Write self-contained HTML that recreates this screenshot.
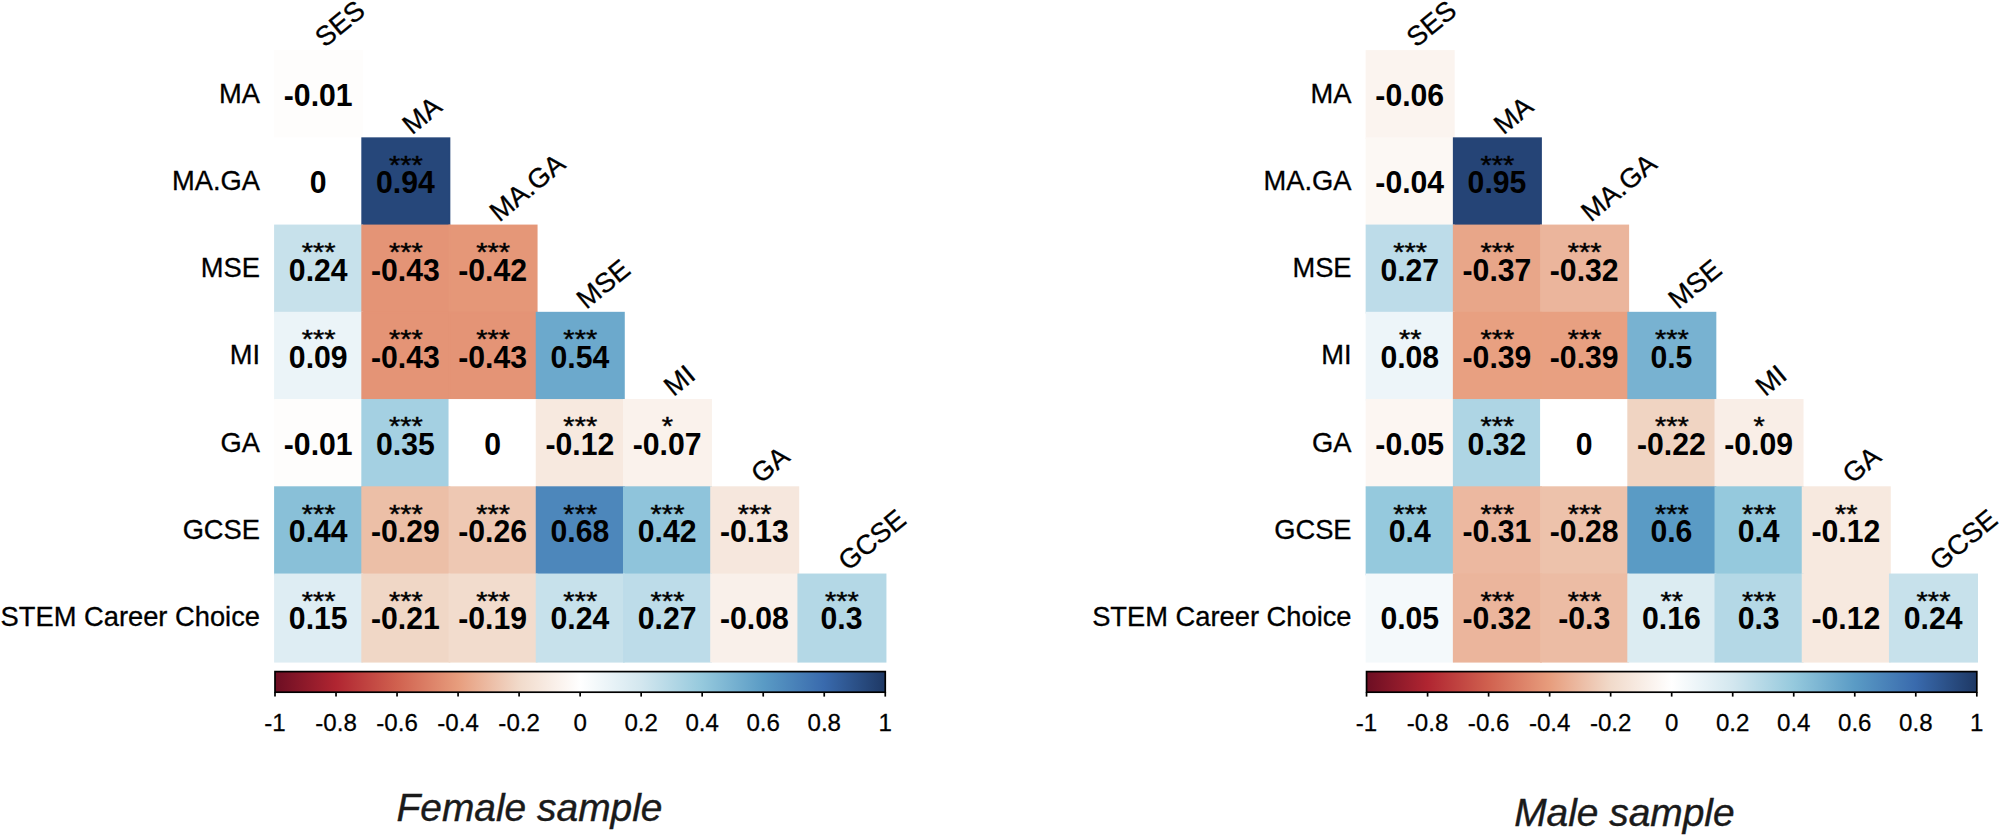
<!DOCTYPE html>
<html><head><meta charset="utf-8"><title>Correlation plots</title>
<style>
html,body{margin:0;padding:0;background:#fff;}
body{width:2000px;height:836px;overflow:hidden;}
svg{display:block;font-family:"Liberation Sans",sans-serif;}
.nm{font-weight:bold;font-size:30.2px;text-anchor:middle;fill:#000;}
.st{font-size:29px;text-anchor:middle;fill:#000;stroke:#000;stroke-width:0.5px;}
.rl{font-size:27.3px;text-anchor:end;fill:#000;stroke:#000;stroke-width:0.3px;}
.cl{font-size:27.3px;text-anchor:start;fill:#000;stroke:#000;stroke-width:0.3px;}
.tk{font-size:24.1px;text-anchor:middle;fill:#000;stroke:#000;stroke-width:0.25px;}
.tt{font-size:38.9px;font-style:italic;text-anchor:middle;fill:#1a1a1a;stroke:#1a1a1a;stroke-width:0.4px;}
</style></head><body>
<svg width="2000" height="836" viewBox="0 0 2000 836">
<defs><linearGradient id="g1" x1="0" x2="1" y1="0" y2="0"><stop offset="0%" stop-color="#6C0E23"/><stop offset="10%" stop-color="#B02531"/><stop offset="20%" stop-color="#D0614F"/><stop offset="30%" stop-color="#E79D7D"/><stop offset="40%" stop-color="#F1DACA"/><stop offset="50%" stop-color="#FFFFFF"/><stop offset="60%" stop-color="#D3E7EF"/><stop offset="70%" stop-color="#95C9DD"/><stop offset="80%" stop-color="#5A9BC5"/><stop offset="90%" stop-color="#396AAD"/><stop offset="100%" stop-color="#1E3864"/></linearGradient></defs>
<rect width="2000" height="836" fill="#fff"/>
<g>
<rect x="275.00" y="51.00" width="87.22" height="87.24" fill="#FEFDFC" stroke="#FEFDFC" stroke-width="1.8"/>
<rect x="275.00" y="138.24" width="87.22" height="87.24" fill="#FFFFFF" stroke="#FFFFFF" stroke-width="1.8"/>
<rect x="362.22" y="138.24" width="87.22" height="87.24" fill="#26477A" stroke="#26477A" stroke-width="1.8"/>
<rect x="275.00" y="225.48" width="87.22" height="87.24" fill="#C7E1EB" stroke="#C7E1EB" stroke-width="1.8"/>
<rect x="362.22" y="225.48" width="87.22" height="87.24" fill="#E49476" stroke="#E49476" stroke-width="1.8"/>
<rect x="449.44" y="225.48" width="87.22" height="87.24" fill="#E59778" stroke="#E59778" stroke-width="1.8"/>
<rect x="275.00" y="312.72" width="87.22" height="87.24" fill="#EBF4F8" stroke="#EBF4F8" stroke-width="1.8"/>
<rect x="362.22" y="312.72" width="87.22" height="87.24" fill="#E49476" stroke="#E49476" stroke-width="1.8"/>
<rect x="449.44" y="312.72" width="87.22" height="87.24" fill="#E49476" stroke="#E49476" stroke-width="1.8"/>
<rect x="536.66" y="312.72" width="87.22" height="87.24" fill="#6CA9CC" stroke="#6CA9CC" stroke-width="1.8"/>
<rect x="275.00" y="399.96" width="87.22" height="87.24" fill="#FEFDFC" stroke="#FEFDFC" stroke-width="1.8"/>
<rect x="362.22" y="399.96" width="87.22" height="87.24" fill="#A4D0E2" stroke="#A4D0E2" stroke-width="1.8"/>
<rect x="449.44" y="399.96" width="87.22" height="87.24" fill="#FFFFFF" stroke="#FFFFFF" stroke-width="1.8"/>
<rect x="536.66" y="399.96" width="87.22" height="87.24" fill="#F7E9DF" stroke="#F7E9DF" stroke-width="1.8"/>
<rect x="623.88" y="399.96" width="87.22" height="87.24" fill="#FAF2EC" stroke="#FAF2EC" stroke-width="1.8"/>
<rect x="275.00" y="487.20" width="87.22" height="87.24" fill="#89C0D8" stroke="#89C0D8" stroke-width="1.8"/>
<rect x="362.22" y="487.20" width="87.22" height="87.24" fill="#ECBFA7" stroke="#ECBFA7" stroke-width="1.8"/>
<rect x="449.44" y="487.20" width="87.22" height="87.24" fill="#EEC8B3" stroke="#EEC8B3" stroke-width="1.8"/>
<rect x="536.66" y="487.20" width="87.22" height="87.24" fill="#4D87BB" stroke="#4D87BB" stroke-width="1.8"/>
<rect x="623.88" y="487.20" width="87.22" height="87.24" fill="#8FC4DB" stroke="#8FC4DB" stroke-width="1.8"/>
<rect x="711.10" y="487.20" width="87.22" height="87.24" fill="#F6E7DD" stroke="#F6E7DD" stroke-width="1.8"/>
<rect x="275.00" y="574.44" width="87.22" height="87.24" fill="#DEEDF3" stroke="#DEEDF3" stroke-width="1.8"/>
<rect x="362.22" y="574.44" width="87.22" height="87.24" fill="#F0D7C6" stroke="#F0D7C6" stroke-width="1.8"/>
<rect x="449.44" y="574.44" width="87.22" height="87.24" fill="#F2DCCD" stroke="#F2DCCD" stroke-width="1.8"/>
<rect x="536.66" y="574.44" width="87.22" height="87.24" fill="#C7E1EB" stroke="#C7E1EB" stroke-width="1.8"/>
<rect x="623.88" y="574.44" width="87.22" height="87.24" fill="#BDDCE9" stroke="#BDDCE9" stroke-width="1.8"/>
<rect x="711.10" y="574.44" width="87.22" height="87.24" fill="#F9F0EA" stroke="#F9F0EA" stroke-width="1.8"/>
<rect x="798.32" y="574.44" width="87.22" height="87.24" fill="#B4D8E6" stroke="#B4D8E6" stroke-width="1.8"/>
<text class="nm" transform="translate(318.21 106.02) scale(1 1.035)">-0.01</text>
<text class="nm" transform="translate(318.21 193.26) scale(1 1.035)">0</text>
<text class="st" transform="translate(405.83 173.66) scale(1 0.9)">***</text>
<text class="nm" transform="translate(405.43 193.26) scale(1 1.035)">0.94</text>
<text class="st" transform="translate(318.61 260.90) scale(1 0.9)">***</text>
<text class="nm" transform="translate(318.21 280.50) scale(1 1.035)">0.24</text>
<text class="st" transform="translate(405.83 260.90) scale(1 0.9)">***</text>
<text class="nm" transform="translate(405.43 280.50) scale(1 1.035)">-0.43</text>
<text class="st" transform="translate(493.05 260.90) scale(1 0.9)">***</text>
<text class="nm" transform="translate(492.65 280.50) scale(1 1.035)">-0.42</text>
<text class="st" transform="translate(318.61 348.14) scale(1 0.9)">***</text>
<text class="nm" transform="translate(318.21 367.74) scale(1 1.035)">0.09</text>
<text class="st" transform="translate(405.83 348.14) scale(1 0.9)">***</text>
<text class="nm" transform="translate(405.43 367.74) scale(1 1.035)">-0.43</text>
<text class="st" transform="translate(493.05 348.14) scale(1 0.9)">***</text>
<text class="nm" transform="translate(492.65 367.74) scale(1 1.035)">-0.43</text>
<text class="st" transform="translate(580.27 348.14) scale(1 0.9)">***</text>
<text class="nm" transform="translate(579.87 367.74) scale(1 1.035)">0.54</text>
<text class="nm" transform="translate(318.21 454.98) scale(1 1.035)">-0.01</text>
<text class="st" transform="translate(405.83 435.38) scale(1 0.9)">***</text>
<text class="nm" transform="translate(405.43 454.98) scale(1 1.035)">0.35</text>
<text class="nm" transform="translate(492.65 454.98) scale(1 1.035)">0</text>
<text class="st" transform="translate(580.27 435.38) scale(1 0.9)">***</text>
<text class="nm" transform="translate(579.87 454.98) scale(1 1.035)">-0.12</text>
<text class="st" transform="translate(667.49 435.38) scale(1 0.9)">*</text>
<text class="nm" transform="translate(667.09 454.98) scale(1 1.035)">-0.07</text>
<text class="st" transform="translate(318.61 522.62) scale(1 0.9)">***</text>
<text class="nm" transform="translate(318.21 542.22) scale(1 1.035)">0.44</text>
<text class="st" transform="translate(405.83 522.62) scale(1 0.9)">***</text>
<text class="nm" transform="translate(405.43 542.22) scale(1 1.035)">-0.29</text>
<text class="st" transform="translate(493.05 522.62) scale(1 0.9)">***</text>
<text class="nm" transform="translate(492.65 542.22) scale(1 1.035)">-0.26</text>
<text class="st" transform="translate(580.27 522.62) scale(1 0.9)">***</text>
<text class="nm" transform="translate(579.87 542.22) scale(1 1.035)">0.68</text>
<text class="st" transform="translate(667.49 522.62) scale(1 0.9)">***</text>
<text class="nm" transform="translate(667.09 542.22) scale(1 1.035)">0.42</text>
<text class="st" transform="translate(754.71 522.62) scale(1 0.9)">***</text>
<text class="nm" transform="translate(754.31 542.22) scale(1 1.035)">-0.13</text>
<text class="st" transform="translate(318.61 609.86) scale(1 0.9)">***</text>
<text class="nm" transform="translate(318.21 629.46) scale(1 1.035)">0.15</text>
<text class="st" transform="translate(405.83 609.86) scale(1 0.9)">***</text>
<text class="nm" transform="translate(405.43 629.46) scale(1 1.035)">-0.21</text>
<text class="st" transform="translate(493.05 609.86) scale(1 0.9)">***</text>
<text class="nm" transform="translate(492.65 629.46) scale(1 1.035)">-0.19</text>
<text class="st" transform="translate(580.27 609.86) scale(1 0.9)">***</text>
<text class="nm" transform="translate(579.87 629.46) scale(1 1.035)">0.24</text>
<text class="st" transform="translate(667.49 609.86) scale(1 0.9)">***</text>
<text class="nm" transform="translate(667.09 629.46) scale(1 1.035)">0.27</text>
<text class="nm" transform="translate(754.31 629.46) scale(1 1.035)">-0.08</text>
<text class="st" transform="translate(841.93 609.86) scale(1 0.9)">***</text>
<text class="nm" transform="translate(841.53 629.46) scale(1 1.035)">0.3</text>
<text class="rl" transform="translate(260.00 102.72)">MA</text>
<text class="rl" transform="translate(260.00 189.96)">MA.GA</text>
<text class="rl" transform="translate(260.00 277.20)">MSE</text>
<text class="rl" transform="translate(260.00 364.44)">MI</text>
<text class="rl" transform="translate(260.00 451.68)">GA</text>
<text class="rl" transform="translate(260.00 538.92)">GCSE</text>
<text class="rl" transform="translate(260.00 626.16)">STEM Career Choice</text>
<text class="cl" transform="translate(324.71 48.20) rotate(-39.5)">SES</text>
<text class="cl" transform="translate(411.93 135.44) rotate(-39.5)">MA</text>
<text class="cl" transform="translate(499.15 222.68) rotate(-39.5)">MA.GA</text>
<text class="cl" transform="translate(586.37 309.92) rotate(-39.5)">MSE</text>
<text class="cl" transform="translate(673.59 397.16) rotate(-39.5)">MI</text>
<text class="cl" transform="translate(760.81 484.40) rotate(-39.5)">GA</text>
<text class="cl" transform="translate(848.03 571.64) rotate(-39.5)">GCSE</text>
<rect x="275.00" y="671.60" width="610.26" height="20.60" fill="url(#g1)" stroke="#000" stroke-width="1.7"/>
<line x1="275.00" y1="692.20" x2="275.00" y2="696.60" stroke="#000" stroke-width="1.7"/>
<text class="tk" transform="translate(275.00 730.70) scale(1 1.02)">-1</text>
<line x1="336.03" y1="692.20" x2="336.03" y2="696.60" stroke="#000" stroke-width="1.7"/>
<text class="tk" transform="translate(336.03 730.70) scale(1 1.02)">-0.8</text>
<line x1="397.05" y1="692.20" x2="397.05" y2="696.60" stroke="#000" stroke-width="1.7"/>
<text class="tk" transform="translate(397.05 730.70) scale(1 1.02)">-0.6</text>
<line x1="458.08" y1="692.20" x2="458.08" y2="696.60" stroke="#000" stroke-width="1.7"/>
<text class="tk" transform="translate(458.08 730.70) scale(1 1.02)">-0.4</text>
<line x1="519.10" y1="692.20" x2="519.10" y2="696.60" stroke="#000" stroke-width="1.7"/>
<text class="tk" transform="translate(519.10 730.70) scale(1 1.02)">-0.2</text>
<line x1="580.13" y1="692.20" x2="580.13" y2="696.60" stroke="#000" stroke-width="1.7"/>
<text class="tk" transform="translate(580.13 730.70) scale(1 1.02)">0</text>
<line x1="641.16" y1="692.20" x2="641.16" y2="696.60" stroke="#000" stroke-width="1.7"/>
<text class="tk" transform="translate(641.16 730.70) scale(1 1.02)">0.2</text>
<line x1="702.18" y1="692.20" x2="702.18" y2="696.60" stroke="#000" stroke-width="1.7"/>
<text class="tk" transform="translate(702.18 730.70) scale(1 1.02)">0.4</text>
<line x1="763.21" y1="692.20" x2="763.21" y2="696.60" stroke="#000" stroke-width="1.7"/>
<text class="tk" transform="translate(763.21 730.70) scale(1 1.02)">0.6</text>
<line x1="824.23" y1="692.20" x2="824.23" y2="696.60" stroke="#000" stroke-width="1.7"/>
<text class="tk" transform="translate(824.23 730.70) scale(1 1.02)">0.8</text>
<line x1="885.26" y1="692.20" x2="885.26" y2="696.60" stroke="#000" stroke-width="1.7"/>
<text class="tk" transform="translate(885.26 730.70) scale(1 1.02)">1</text>
<text class="tt" transform="translate(529.50 821.40) scale(1 1.02)">Female sample</text>
</g>
<g>
<rect x="1366.55" y="51.00" width="87.22" height="87.24" fill="#FBF4EF" stroke="#FBF4EF" stroke-width="1.8"/>
<rect x="1366.55" y="138.24" width="87.22" height="87.24" fill="#FCF8F4" stroke="#FCF8F4" stroke-width="1.8"/>
<rect x="1453.77" y="138.24" width="87.22" height="87.24" fill="#254476" stroke="#254476" stroke-width="1.8"/>
<rect x="1366.55" y="225.48" width="87.22" height="87.24" fill="#BDDCE9" stroke="#BDDCE9" stroke-width="1.8"/>
<rect x="1453.77" y="225.48" width="87.22" height="87.24" fill="#E8A689" stroke="#E8A689" stroke-width="1.8"/>
<rect x="1540.99" y="225.48" width="87.22" height="87.24" fill="#EBB59C" stroke="#EBB59C" stroke-width="1.8"/>
<rect x="1366.55" y="312.72" width="87.22" height="87.24" fill="#EDF5F9" stroke="#EDF5F9" stroke-width="1.8"/>
<rect x="1453.77" y="312.72" width="87.22" height="87.24" fill="#E8A081" stroke="#E8A081" stroke-width="1.8"/>
<rect x="1540.99" y="312.72" width="87.22" height="87.24" fill="#E8A081" stroke="#E8A081" stroke-width="1.8"/>
<rect x="1628.21" y="312.72" width="87.22" height="87.24" fill="#78B2D1" stroke="#78B2D1" stroke-width="1.8"/>
<rect x="1366.55" y="399.96" width="87.22" height="87.24" fill="#FCF6F2" stroke="#FCF6F2" stroke-width="1.8"/>
<rect x="1453.77" y="399.96" width="87.22" height="87.24" fill="#AED5E4" stroke="#AED5E4" stroke-width="1.8"/>
<rect x="1540.99" y="399.96" width="87.22" height="87.24" fill="#FFFFFF" stroke="#FFFFFF" stroke-width="1.8"/>
<rect x="1628.21" y="399.96" width="87.22" height="87.24" fill="#F0D4C2" stroke="#F0D4C2" stroke-width="1.8"/>
<rect x="1715.43" y="399.96" width="87.22" height="87.24" fill="#F9EEE7" stroke="#F9EEE7" stroke-width="1.8"/>
<rect x="1366.55" y="487.20" width="87.22" height="87.24" fill="#95C9DD" stroke="#95C9DD" stroke-width="1.8"/>
<rect x="1453.77" y="487.20" width="87.22" height="87.24" fill="#ECB8A0" stroke="#ECB8A0" stroke-width="1.8"/>
<rect x="1540.99" y="487.20" width="87.22" height="87.24" fill="#EDC2AB" stroke="#EDC2AB" stroke-width="1.8"/>
<rect x="1628.21" y="487.20" width="87.22" height="87.24" fill="#5A9BC5" stroke="#5A9BC5" stroke-width="1.8"/>
<rect x="1715.43" y="487.20" width="87.22" height="87.24" fill="#95C9DD" stroke="#95C9DD" stroke-width="1.8"/>
<rect x="1802.65" y="487.20" width="87.22" height="87.24" fill="#F7E9DF" stroke="#F7E9DF" stroke-width="1.8"/>
<rect x="1366.55" y="574.44" width="87.22" height="87.24" fill="#F4F9FB" stroke="#F4F9FB" stroke-width="1.8"/>
<rect x="1453.77" y="574.44" width="87.22" height="87.24" fill="#EBB59C" stroke="#EBB59C" stroke-width="1.8"/>
<rect x="1540.99" y="574.44" width="87.22" height="87.24" fill="#ECBCA4" stroke="#ECBCA4" stroke-width="1.8"/>
<rect x="1628.21" y="574.44" width="87.22" height="87.24" fill="#DCECF2" stroke="#DCECF2" stroke-width="1.8"/>
<rect x="1715.43" y="574.44" width="87.22" height="87.24" fill="#B4D8E6" stroke="#B4D8E6" stroke-width="1.8"/>
<rect x="1802.65" y="574.44" width="87.22" height="87.24" fill="#F7E9DF" stroke="#F7E9DF" stroke-width="1.8"/>
<rect x="1889.87" y="574.44" width="87.22" height="87.24" fill="#C7E1EB" stroke="#C7E1EB" stroke-width="1.8"/>
<text class="nm" transform="translate(1409.76 106.02) scale(1 1.035)">-0.06</text>
<text class="nm" transform="translate(1409.76 193.26) scale(1 1.035)">-0.04</text>
<text class="st" transform="translate(1497.38 173.66) scale(1 0.9)">***</text>
<text class="nm" transform="translate(1496.98 193.26) scale(1 1.035)">0.95</text>
<text class="st" transform="translate(1410.16 260.90) scale(1 0.9)">***</text>
<text class="nm" transform="translate(1409.76 280.50) scale(1 1.035)">0.27</text>
<text class="st" transform="translate(1497.38 260.90) scale(1 0.9)">***</text>
<text class="nm" transform="translate(1496.98 280.50) scale(1 1.035)">-0.37</text>
<text class="st" transform="translate(1584.60 260.90) scale(1 0.9)">***</text>
<text class="nm" transform="translate(1584.20 280.50) scale(1 1.035)">-0.32</text>
<text class="st" transform="translate(1410.16 348.14) scale(1 0.9)">**</text>
<text class="nm" transform="translate(1409.76 367.74) scale(1 1.035)">0.08</text>
<text class="st" transform="translate(1497.38 348.14) scale(1 0.9)">***</text>
<text class="nm" transform="translate(1496.98 367.74) scale(1 1.035)">-0.39</text>
<text class="st" transform="translate(1584.60 348.14) scale(1 0.9)">***</text>
<text class="nm" transform="translate(1584.20 367.74) scale(1 1.035)">-0.39</text>
<text class="st" transform="translate(1671.82 348.14) scale(1 0.9)">***</text>
<text class="nm" transform="translate(1671.42 367.74) scale(1 1.035)">0.5</text>
<text class="nm" transform="translate(1409.76 454.98) scale(1 1.035)">-0.05</text>
<text class="st" transform="translate(1497.38 435.38) scale(1 0.9)">***</text>
<text class="nm" transform="translate(1496.98 454.98) scale(1 1.035)">0.32</text>
<text class="nm" transform="translate(1584.20 454.98) scale(1 1.035)">0</text>
<text class="st" transform="translate(1671.82 435.38) scale(1 0.9)">***</text>
<text class="nm" transform="translate(1671.42 454.98) scale(1 1.035)">-0.22</text>
<text class="st" transform="translate(1759.04 435.38) scale(1 0.9)">*</text>
<text class="nm" transform="translate(1758.64 454.98) scale(1 1.035)">-0.09</text>
<text class="st" transform="translate(1410.16 522.62) scale(1 0.9)">***</text>
<text class="nm" transform="translate(1409.76 542.22) scale(1 1.035)">0.4</text>
<text class="st" transform="translate(1497.38 522.62) scale(1 0.9)">***</text>
<text class="nm" transform="translate(1496.98 542.22) scale(1 1.035)">-0.31</text>
<text class="st" transform="translate(1584.60 522.62) scale(1 0.9)">***</text>
<text class="nm" transform="translate(1584.20 542.22) scale(1 1.035)">-0.28</text>
<text class="st" transform="translate(1671.82 522.62) scale(1 0.9)">***</text>
<text class="nm" transform="translate(1671.42 542.22) scale(1 1.035)">0.6</text>
<text class="st" transform="translate(1759.04 522.62) scale(1 0.9)">***</text>
<text class="nm" transform="translate(1758.64 542.22) scale(1 1.035)">0.4</text>
<text class="st" transform="translate(1846.26 522.62) scale(1 0.9)">**</text>
<text class="nm" transform="translate(1845.86 542.22) scale(1 1.035)">-0.12</text>
<text class="nm" transform="translate(1409.76 629.46) scale(1 1.035)">0.05</text>
<text class="st" transform="translate(1497.38 609.86) scale(1 0.9)">***</text>
<text class="nm" transform="translate(1496.98 629.46) scale(1 1.035)">-0.32</text>
<text class="st" transform="translate(1584.60 609.86) scale(1 0.9)">***</text>
<text class="nm" transform="translate(1584.20 629.46) scale(1 1.035)">-0.3</text>
<text class="st" transform="translate(1671.82 609.86) scale(1 0.9)">**</text>
<text class="nm" transform="translate(1671.42 629.46) scale(1 1.035)">0.16</text>
<text class="st" transform="translate(1759.04 609.86) scale(1 0.9)">***</text>
<text class="nm" transform="translate(1758.64 629.46) scale(1 1.035)">0.3</text>
<text class="nm" transform="translate(1845.86 629.46) scale(1 1.035)">-0.12</text>
<text class="st" transform="translate(1933.48 609.86) scale(1 0.9)">***</text>
<text class="nm" transform="translate(1933.08 629.46) scale(1 1.035)">0.24</text>
<text class="rl" transform="translate(1351.55 102.72)">MA</text>
<text class="rl" transform="translate(1351.55 189.96)">MA.GA</text>
<text class="rl" transform="translate(1351.55 277.20)">MSE</text>
<text class="rl" transform="translate(1351.55 364.44)">MI</text>
<text class="rl" transform="translate(1351.55 451.68)">GA</text>
<text class="rl" transform="translate(1351.55 538.92)">GCSE</text>
<text class="rl" transform="translate(1351.55 626.16)">STEM Career Choice</text>
<text class="cl" transform="translate(1416.26 48.20) rotate(-39.5)">SES</text>
<text class="cl" transform="translate(1503.48 135.44) rotate(-39.5)">MA</text>
<text class="cl" transform="translate(1590.70 222.68) rotate(-39.5)">MA.GA</text>
<text class="cl" transform="translate(1677.92 309.92) rotate(-39.5)">MSE</text>
<text class="cl" transform="translate(1765.14 397.16) rotate(-39.5)">MI</text>
<text class="cl" transform="translate(1852.36 484.40) rotate(-39.5)">GA</text>
<text class="cl" transform="translate(1939.58 571.64) rotate(-39.5)">GCSE</text>
<rect x="1366.55" y="671.60" width="610.26" height="20.60" fill="url(#g1)" stroke="#000" stroke-width="1.7"/>
<line x1="1366.55" y1="692.20" x2="1366.55" y2="696.60" stroke="#000" stroke-width="1.7"/>
<text class="tk" transform="translate(1366.55 730.70) scale(1 1.02)">-1</text>
<line x1="1427.58" y1="692.20" x2="1427.58" y2="696.60" stroke="#000" stroke-width="1.7"/>
<text class="tk" transform="translate(1427.58 730.70) scale(1 1.02)">-0.8</text>
<line x1="1488.60" y1="692.20" x2="1488.60" y2="696.60" stroke="#000" stroke-width="1.7"/>
<text class="tk" transform="translate(1488.60 730.70) scale(1 1.02)">-0.6</text>
<line x1="1549.63" y1="692.20" x2="1549.63" y2="696.60" stroke="#000" stroke-width="1.7"/>
<text class="tk" transform="translate(1549.63 730.70) scale(1 1.02)">-0.4</text>
<line x1="1610.65" y1="692.20" x2="1610.65" y2="696.60" stroke="#000" stroke-width="1.7"/>
<text class="tk" transform="translate(1610.65 730.70) scale(1 1.02)">-0.2</text>
<line x1="1671.68" y1="692.20" x2="1671.68" y2="696.60" stroke="#000" stroke-width="1.7"/>
<text class="tk" transform="translate(1671.68 730.70) scale(1 1.02)">0</text>
<line x1="1732.71" y1="692.20" x2="1732.71" y2="696.60" stroke="#000" stroke-width="1.7"/>
<text class="tk" transform="translate(1732.71 730.70) scale(1 1.02)">0.2</text>
<line x1="1793.73" y1="692.20" x2="1793.73" y2="696.60" stroke="#000" stroke-width="1.7"/>
<text class="tk" transform="translate(1793.73 730.70) scale(1 1.02)">0.4</text>
<line x1="1854.76" y1="692.20" x2="1854.76" y2="696.60" stroke="#000" stroke-width="1.7"/>
<text class="tk" transform="translate(1854.76 730.70) scale(1 1.02)">0.6</text>
<line x1="1915.78" y1="692.20" x2="1915.78" y2="696.60" stroke="#000" stroke-width="1.7"/>
<text class="tk" transform="translate(1915.78 730.70) scale(1 1.02)">0.8</text>
<line x1="1976.81" y1="692.20" x2="1976.81" y2="696.60" stroke="#000" stroke-width="1.7"/>
<text class="tk" transform="translate(1976.81 730.70) scale(1 1.02)">1</text>
<text class="tt" transform="translate(1624.40 825.80) scale(1 1.02)">Male sample</text>
</g>
</svg>
</body></html>
